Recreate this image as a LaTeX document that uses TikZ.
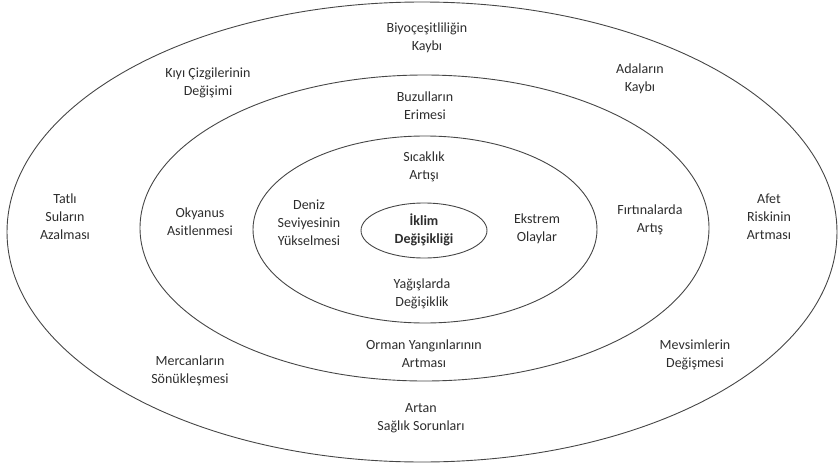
\documentclass[tikz,border=0pt]{standalone}
\usepackage{fontspec}
\setmainfont{Carlito}
\usetikzlibrary{positioning}
\definecolor{color_ring}{RGB}{70,70,70}
\definecolor{color_label}{RGB}{45,45,45}

\begin{document}
\begin{tikzpicture}[x=1pt,y=-1pt,
ring/.style={draw=color_ring,line width=0.9pt},
label/.style={align=center,text=color_label,inner sep=0pt,
  font=\fontsize{14}{18}\selectfont}]
\useasboundingbox (0,0) rectangle (839,466);
% HALKALAR
\draw[ring] (422,232) ellipse [x radius=415,y radius=230];
\draw[ring] (424.5,228) ellipse [x radius=284.5,y radius=153];
\draw[ring] (425,229.5) ellipse [x radius=172,y radius=93.5];
\draw[ring] (424,230.5) ellipse [x radius=63,y radius=27.5];
% MERKEZ
\node[label,font=\bfseries\fontsize{14}{18}\selectfont] (iklim) at (424,230) {İklim\\Değişikliği};
% IC HALKA
\node[label] (sicaklik) at (424,167) {Sıcaklık\\Artışı};
\node[label] (deniz) at (309,223) {Deniz\\Seviyesinin\\Yükselmesi};
\node[label] (ekstrem) at (537,229) {Ekstrem\\Olaylar};
\node[label] (yagis) at (422,294) {Yağışlarda\\Değişiklik};
% ORTA HALKA
\node[label] (buzul) at (425,106) {Buzulların\\Erimesi};
\node[label] (okyanus) at (200,222) {Okyanus\\Asitlenmesi};
\node[label] (firtina) at (650,220) {Fırtınalarda\\Artış};
\node[label] (orman) at (424,353.5) {Orman Yangınlarının\\Artması};
% DIS HALKA
\node[label] (biyo) at (427,37.5) {Biyoçeşitliliğin\\Kaybı};
\node[label] (kiyi) at (208,83) {Kıyı Çizgilerinin\\Değişimi};
\node[label] (ada) at (640,79) {Adaların\\Kaybı};
\node[label] (tatli) at (65,217) {Tatlı\\Suların\\Azalması};
\node[label] (afet) at (769,217) {Afet\\Riskinin\\Artması};
\node[label] (mercan) at (190,371) {Mercanların\\Sönükleşmesi};
\node[label] (mevsim) at (695,355) {Mevsimlerin\\Değişmesi};
\node[label] (saglik) at (421,418) {Artan\\Sağlık Sorunları};
\end{tikzpicture}
\end{document}
